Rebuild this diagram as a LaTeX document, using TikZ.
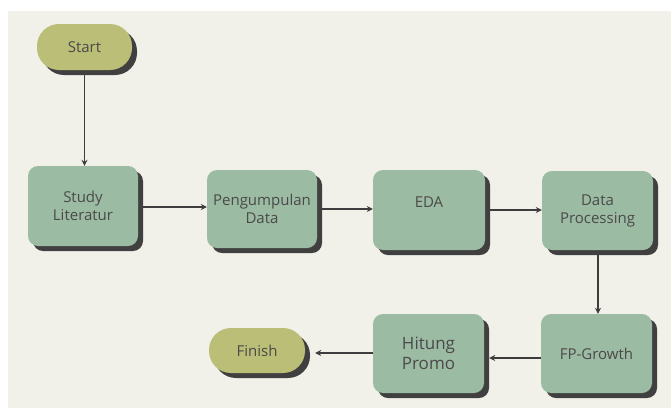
\documentclass[tikz,border=0pt]{standalone}
\usepackage{fontspec}
\setmainfont{Open Sans}
\usetikzlibrary{shadows,arrows.meta}
\pgfdeclarelayer{bg}
\pgfsetlayers{bg,main}
\definecolor{bgc}{HTML}{F1F1EA}
\definecolor{boxc}{HTML}{9CBBA3}
\definecolor{termc}{HTML}{BBBE76}
\definecolor{shadc}{HTML}{404040}
\definecolor{txtc}{HTML}{4A4A4A}
\definecolor{linec}{HTML}{3D3D3D}
\tikzset{
  procbox/.style={fill=boxc, rounded corners=10pt, minimum width=111pt, minimum height=79pt,
    text=txtc, align=center, inner sep=0pt, font=\fontsize{15}{18}\selectfont,
    drop shadow={shadow xshift=5pt, shadow yshift=-5pt, opacity=1, fill=shadc}},
  termbox/.style={fill=termc, rounded corners=22pt, minimum width=95pt, minimum height=46pt,
    text=txtc, align=center, inner sep=0pt, font=\fontsize{15}{18}\selectfont,
    drop shadow={shadow xshift=5pt, shadow yshift=-5pt, opacity=1, fill=shadc}},
  conn/.style={draw=linec, line width=1.4pt, -{Stealth[length=6pt,width=6pt]}}
}
\begin{document}
\begin{tikzpicture}[x=1pt,y=-1pt]
\useasboundingbox (0,0) rectangle (671,408);
\node[termbox] (start) at (84.5,47) {Start};
\node[procbox, minimum width=110pt, minimum height=80pt] (study) at (83,206) {Study\\Literatur};
\node[procbox, minimum width=110pt, minimum height=78pt] (peng) at (262,209) {Pengumpulan\\Data};
\node[procbox, minimum width=112pt, minimum height=80pt] (eda) at (429,210) {};
\node[text=txtc, font=\fontsize{15}{18}\selectfont] (edat) at (429,202) {EDA};
\node[procbox] (dp) at (597.5,210.5) {Data\\Processing};
\node[procbox] (fp) at (596.5,353.5) {FP-Growth};
\node[procbox, font=\fontsize{17}{20}\selectfont] (hit) at (428.5,353.5) {Hitung\\Promo};
\node[termbox, minimum width=96pt, minimum height=45pt] (fin) at (257,350.5) {Finish};
\begin{pgfonlayer}{bg}
\fill[bgc] (8,11) rectangle (671,408);
\draw[conn] (start.south) -- (start.south |- study.north);
\draw[conn] (study.east |- 0,207) -- (peng.west |- 0,207);
\draw[conn] (peng.east |- 0,209) -- (eda.west |- 0,209);
\draw[conn] (eda.east |- 0,210) -- (dp.west |- 0,210);
\draw[conn] (dp.south -| 598,0) -- (fp.north -| 598,0);
\draw[conn] (fp.west |- 0,358) -- ([xshift=5pt]hit.east |- 0,358);
\draw[conn] (hit.west |- 0,353) -- ([xshift=10pt]fin.east |- 0,353);
\end{pgfonlayer}
\end{tikzpicture}
\end{document}
